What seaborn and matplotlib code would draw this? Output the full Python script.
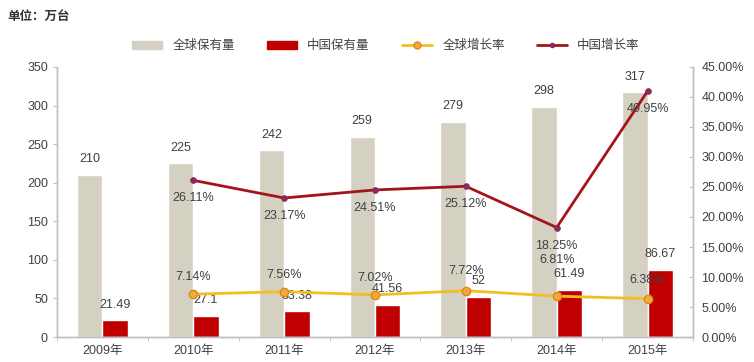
import numpy as np
import pandas as pd
import matplotlib
matplotlib.use("Agg")
import matplotlib.pyplot as plt
import seaborn as sns
from matplotlib.patches import Patch
from matplotlib.lines import Line2D

# Data
years = ["2009年", "2010年", "2011年", "2012年", "2013年", "2014年", "2015年"]
global_stock = [210, 225, 242, 259, 279, 298, 317]
china_stock = [21.49, 27.1, 33.38, 41.56, 52, 61.49, 86.67]
growth_years = ["2010年", "2011年", "2012年", "2013年", "2014年", "2015年"]
global_growth = [7.14, 7.56, 7.02, 7.72, 6.81, 6.38]
china_growth = [26.11, 23.17, 24.51, 25.12, 18.25, 40.95]

sns.set_style("white")
plt.rcParams["font.family"] = ["Liberation Sans", "Noto Sans CJK SC", "DejaVu Sans"]

c_global = "#D5D1C2"
c_china = "#C00000"
c_gline = "#F2BE22"
c_cline = "#A3141C"
txt = "#404040"

df = pd.DataFrame({
    "year": years * 2,
    "value": global_stock + china_stock,
    "series": ["全球保有量"] * len(years) + ["中国保有量"] * len(years),
})

fig = plt.figure(figsize=(7.54, 3.62), dpi=100)
ax = fig.add_axes([0.0756, 0.069, 0.8434, 0.746])

sns.barplot(data=df, x="year", y="value", hue="series", order=years,
            palette=[c_global, c_china], width=0.56, gap=0, saturation=1,
            legend=False, ax=ax)
ax.set_ylim(0, 350)
ax.set_yticks(range(0, 351, 50))
ax.set_xlim(-0.5, len(years) - 0.5)
ax.set_xlabel("")
ax.set_ylabel("")

# bar labels
for cont in ax.containers:
    ax.bar_label(cont, labels=[f"{v:g}" for v in cont.datavalues],
                 padding=7, fontsize=9, color=txt)

# growth lines on right axis
ax2 = ax.twinx()
gx = [years.index(y) for y in growth_years]
sns.lineplot(x=gx, y=global_growth, ax=ax2, color=c_gline, lw=2,
             marker="o", markersize=6, markerfacecolor="#F5A93A",
             markeredgecolor="#D88A1A", markeredgewidth=1)
sns.lineplot(x=gx, y=china_growth, ax=ax2, color=c_cline, lw=2,
             marker="o", markersize=4, markerfacecolor="#8A2A5A",
             markeredgecolor="#8A2A5A")
ax2.set_ylim(0, 45)
ax2.set_yticks(range(0, 46, 5))
ax2.set_yticklabels([f"{v:.2f}%" for v in range(0, 46, 5)])
ax2.set_xlim(-0.5, len(years) - 0.5)

g_off = [17, 17, 17, 20, 36, 19]
for x, v, o in zip(gx, global_growth, g_off):
    ax2.annotate(f"{v:.2f}%", (x, v), xytext=(0, o), textcoords="offset pixels",
                 ha="center", va="center", fontsize=9, color=txt)
for x, v in zip(gx, china_growth):
    ax2.annotate(f"{v:.2f}%", (x, v), xytext=(0, -18), textcoords="offset pixels",
                 ha="center", va="center", fontsize=9, color=txt)

# axes styling
for a in (ax, ax2):
    a.spines["top"].set_visible(False)
    for s in ("left", "right", "bottom"):
        a.spines[s].set_color("#BFBFBF")
        a.spines[s].set_linewidth(1)
ax.tick_params(axis="y", length=3, color="#BFBFBF", labelsize=9, labelcolor=txt, left=True)
ax.tick_params(axis="x", length=0, labelsize=9, labelcolor=txt, pad=6)
ax.set_xticks(np.arange(-0.5, len(years), 1), minor=True)
ax.tick_params(axis="x", which="minor", length=3, color="#BFBFBF", bottom=True)
ax2.tick_params(axis="y", length=3, direction="in", color="#BFBFBF", labelsize=9,
                labelcolor=txt, pad=6)

# legend
handles = [
    Patch(color=c_global, label="全球保有量"),
    Patch(color=c_china, label="中国保有量"),
    Line2D([], [], color=c_gline, lw=2, marker="o", markersize=5,
           markerfacecolor="#F5A93A", markeredgecolor="#D88A1A", label="全球增长率"),
    Line2D([], [], color=c_cline, lw=2, marker="o", markersize=3,
           markerfacecolor="#8A2A5A", markeredgecolor="#8A2A5A", label="中国增长率"),
]
fig.legend(handles=handles, loc="center", bbox_to_anchor=(0.512, 0.872), ncol=4,
           frameon=False, fontsize=9, handlelength=2.4, handleheight=0.6,
           columnspacing=2.6, labelcolor=txt)

fig.text(0.01, 0.955, "单位：万台", fontsize=9, fontweight="bold", color="#333333",
         va="center", family=["Noto Sans CJK SC", "DejaVu Sans"])

fig.savefig("out.png", dpi=100)
